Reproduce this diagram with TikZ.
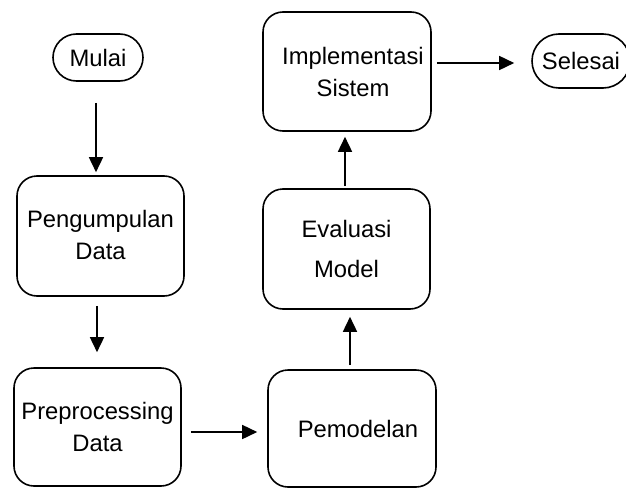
\documentclass[tikz,border=0pt]{standalone}
\usepackage{fontspec}
\setmainfont{Liberation Sans}
\usetikzlibrary{arrows.meta}

\tikzset{
  box/.style={draw, line width=1.6pt, rounded corners=20pt, align=center,
    inner sep=0pt, font=\fontsize{23.8}{32}\selectfont},
  term/.style={draw, line width=1.6pt, align=center, inner sep=0pt,
    font=\fontsize{23.8}{32}\selectfont},
  arr/.style={line width=1.6pt, -{Triangle[length=15pt,width=14pt]}},
}

\begin{document}
\begin{tikzpicture}[x=1pt, y=-1pt]
  \useasboundingbox (0,0) rectangle (626,487);
  \clip (0,0) rectangle (626,487);

  % terminators
  \node[term, minimum width=90pt, minimum height=47pt, rounded corners=23.5pt]
    (mulai) at (98,57.5) {Mulai};
  \node[term, minimum width=98pt, minimum height=54pt, rounded corners=27pt]
    (selesai) at (581,61) {Selesai};

  % process steps
  \node[box, minimum width=167pt, minimum height=120pt] (kumpul) at (100.5,236) {\raisebox{3pt}{Pengumpulan}\\\raisebox{3pt}{Data}};
  \node[box, minimum width=167pt, minimum height=118pt] (prep) at (97.5,427) {Preprocessing\\Data};
  \node[box, minimum width=168pt, minimum height=117pt] (model) at (352,428.5) {\hspace*{12pt}Pemodelan};
  \node[box, minimum width=167pt, minimum height=120pt, font=\fontsize{23.8}{37}\selectfont]
    (eval) at (346.5,249) {\raisebox{3pt}{Evaluasi}\\Model};
  \node[box, minimum width=168pt, minimum height=119pt] (impl) at (347,71.5) {\hspace*{12pt}Implementasi\\\hspace*{12pt}Sistem};

  % flow
  \draw[arr] ([xshift=-2pt,yshift=-21pt]mulai.south) -- ([xshift=-2pt,yshift=3pt]mulai.south |- kumpul.north);
  \draw[arr] ([xshift=-3.5pt,yshift=-9pt]kumpul.south) -- ([xshift=-3.5pt,yshift=15pt]kumpul.south |- prep.north);
  \draw[arr] ([xshift=9pt,yshift=-5pt]prep.east) -- ([xshift=-10pt,yshift=-5pt]prep.east -| model.west);
  \draw[arr] ([xshift=-2pt,yshift=4pt]model.north) -- ([xshift=-2pt,yshift=-7pt]model.north |- eval.south);
  \draw[arr] ([xshift=-1.5pt,yshift=2pt]eval.north) -- ([xshift=-1.5pt,yshift=-5pt]eval.north |- impl.south);
  \draw[arr] ([xshift=5pt,yshift=8.5pt]impl.east) -- ([xshift=-17pt,yshift=8.5pt]impl.east -| selesai.west);
\end{tikzpicture}
\end{document}
